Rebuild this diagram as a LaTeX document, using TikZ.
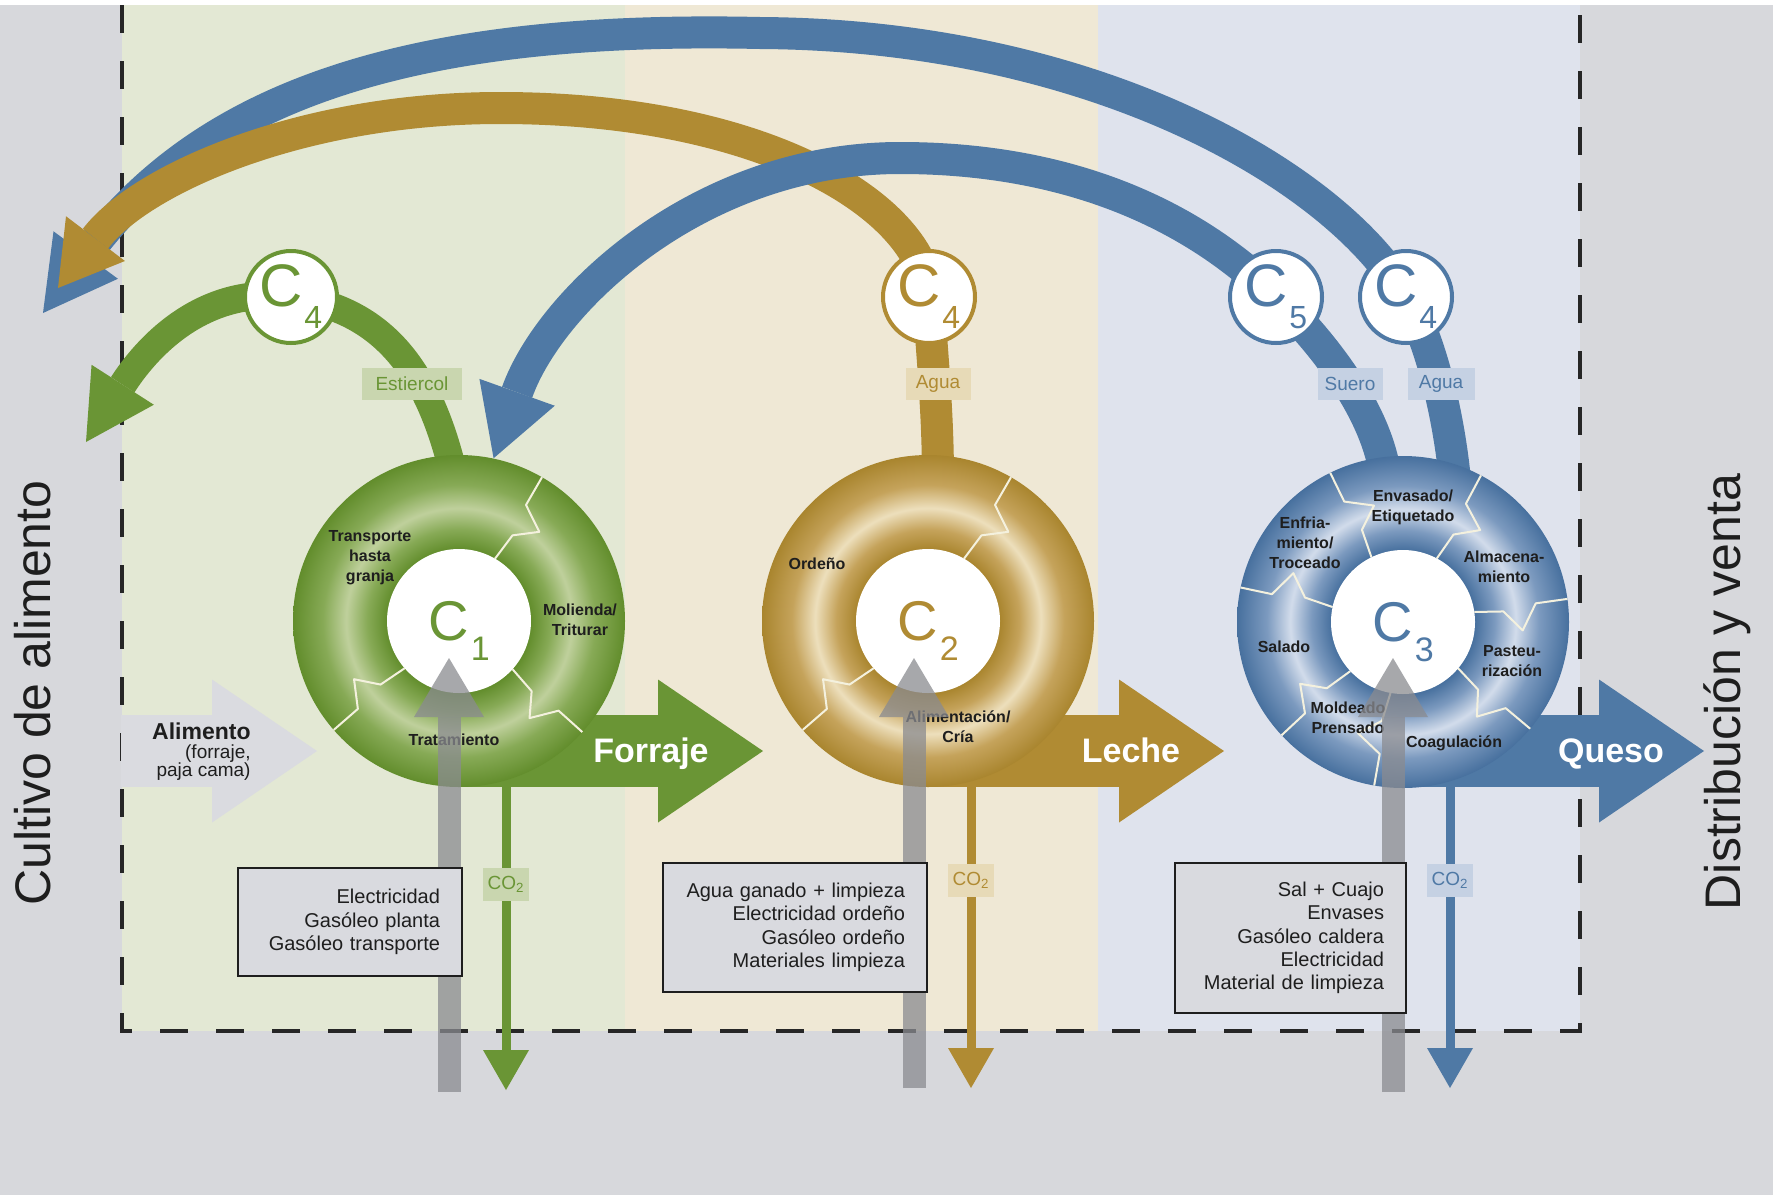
\documentclass[tikz,border=0pt]{standalone}
\usepackage{fontspec}
\setmainfont{Liberation Sans}
\usetikzlibrary{arrows.meta,calc}

\definecolor{bggray}{HTML}{D7D8DC}
\definecolor{zonegreen}{HTML}{E3E8D4}
\definecolor{zonetan}{HTML}{EFE8D5}
\definecolor{zoneblue}{HTML}{DFE3ED}
\definecolor{cgreen}{HTML}{6A9535}
\definecolor{ctan}{HTML}{B08B33}
\definecolor{cblue}{HTML}{4F79A5}
\definecolor{tgreen}{HTML}{C9D6AF}
\definecolor{ttan}{HTML}{E7DAB7}
\definecolor{tblue}{HTML}{C5D1E3}
\definecolor{grayarrow}{HTML}{8A8B90}
\definecolor{feedgray}{HTML}{DADBE0}
\definecolor{boxfill}{HTML}{D9DADF}
\definecolor{inktext}{HTML}{1E1E1E}
\definecolor{seamwhite}{HTML}{F4F1DE}
\definecolor{gdk}{HTML}{628D2C}
\definecolor{gmd}{HTML}{87AA56}
\definecolor{glt}{HTML}{BFD09C}
\definecolor{tdk}{HTML}{A9852E}
\definecolor{tmd}{HTML}{C5A35B}
\definecolor{tlt}{HTML}{EDDFBC}
\definecolor{bdk}{HTML}{47709E}
\definecolor{bmd}{HTML}{7C9ABF}
\definecolor{blt}{HTML}{D2DCEB}

\pgfdeclareradialshading{ringgreen}{\pgfpoint{0bp}{0bp}}{color(0bp)=(gdk); color(10.8bp)=(gdk); color(13.8bp)=(gmd); color(17bp)=(glt); color(20.5bp)=(gmd); color(25bp)=(gdk); color(50bp)=(gdk)}
\pgfdeclareradialshading{ringtan}{\pgfpoint{0bp}{0bp}}{color(0bp)=(tdk); color(10.8bp)=(tdk); color(13.8bp)=(tmd); color(17bp)=(tlt); color(20.5bp)=(tmd); color(25bp)=(tdk); color(50bp)=(tdk)}
\pgfdeclareradialshading{ringblue}{\pgfpoint{0bp}{0bp}}{color(0bp)=(bdk); color(10.8bp)=(bdk); color(13.8bp)=(bmd); color(17bp)=(blt); color(20.5bp)=(bmd); color(25bp)=(bdk); color(50bp)=(bdk)}

\pgfdeclarelayer{zones}
\pgfdeclarelayer{back}
\pgfdeclarelayer{front}
\pgfsetlayers{zones,back,main,front}

\newcommand{\Csub}[1]{C\kern1pt\smash{\raisebox{-10pt}{\fontsize{17}{17}\selectfont #1}}}
\newcommand{\Csmall}[1]{C\kern0.5pt\raisebox{-11pt}{\fontsize{16}{16}\selectfont #1}}
\newcommand{\seam}[2]{\draw[seamline] ($(#1)+(#2:36pt)$) -- ($(#1)+(#2-2:50.5pt)$) -- ($(#1)+(#2-12:60pt)$) -- ($(#1)+(#2:67pt)$) -- ($(#1)+(#2:83pt)$);}

\tikzset{
  ringnode/.style={circle, shade, shading=#1, minimum size=166pt, inner sep=0pt},
  corenode/.style={circle, fill=white, minimum size=72pt, inner sep=0pt, font=\fontsize{28}{28}\selectfont},
  bubble/.style={circle, draw=#1, fill=white, line width=2pt, minimum size=46pt, inner sep=0pt, text=#1, font=\fontsize{30}{30}\selectfont},
  steplabel/.style={align=center, inner sep=0pt, text=inktext, font=\fontsize{8}{10}\selectfont\bfseries},
  tagbox/.style={fill=#1, inner sep=0pt, minimum height=16pt, font=\fontsize{9.5}{9.5}\selectfont},
  inbox/.style={draw=inktext, line width=1.2pt, fill=boxfill, align=right, inner xsep=11pt, text=inktext, font=\fontsize{10}{11.7}\selectfont},
  bigarrow/.style={line width=36pt, -{Triangle[length=52.5pt,width=71.5pt,line width=0pt]}},
  bigtext/.style={anchor=base, text=white, font=\fontsize{17}{17}\selectfont\bfseries},
  band/.style={line width=#1},
  co2arrow/.style={line width=4.5pt, -{Triangle[length=20pt,width=23pt,line width=0pt]}},
  grayup/.style={draw=grayarrow, opacity=.75, line width=11.5pt, -{Triangle[length=29.5pt,width=35pt,line width=0pt]}},
  seamline/.style={draw=seamwhite, line width=1pt, line join=round},
  sidelabel/.style={rotate=90, anchor=base, text=inktext, font=\fontsize{25}{25}\selectfont},
  border/.style={draw=black!85, line width=2pt, dash pattern=on 14pt off 14pt}
}

\begin{document}
\begin{tikzpicture}[x=0.5pt,y=-0.5pt]
  \useasboundingbox (0,0) rectangle (1773,1195);
  % zones of the system
  \begin{pgfonlayer}{zones}
    \fill[white] (0,0) rectangle (1773,5);
    \fill[bggray] (0,5) rectangle (1773,1195);
    \fill[zonegreen] (122,5) rectangle (625,1031);
    \fill[zonetan] (625,5) rectangle (1098,1031);
    \fill[zoneblue] (1098,5) rectangle (1580,1031);
    \draw[border] (122,5) -- (122,1031) -- (1580,1031) -- (1580,5);
  \end{pgfonlayer}

  % rings
  \node[ringnode=ringgreen] (ringA) at (459,621) {};
  \node[ringnode=ringtan] (ringB) at (928,621) {};
  \node[ringnode=ringblue] (ringC) at (1403,622) {};
  \foreach \a in {60,-42,221} {\seam{ringA}{\a}}
  \foreach \a in {60,221} {\seam{ringB}{\a}}
  \foreach \a in {116,62,8,-40,-100,223,168} {\seam{ringC}{\a}}
  \node[corenode, text=cgreen] (coreA) at (ringA) {\Csub{1}};
  \node[corenode, text=ctan] (coreB) at (ringB) {\Csub{2}};
  \node[corenode, text=cblue] (coreC) at (ringC) {\Csub{3}};

  % process steps
  \node[steplabel] at (370,558) {Transporte\\hasta\\granja};
  \node[steplabel] at (580,620) {Molienda/\\Triturar};
  \node[steplabel] at (454,740) {Tratamiento};
  \node[steplabel] at (817,564) {Ordeño};
  \node[steplabel] at (958,727) {Alimentación/\\Cría};
  \node[steplabel] at (1413,507) {Envasado/\\Etiquetado};
  \node[steplabel] at (1305,543) {Enfria-\\miento/\\Troceado};
  \node[steplabel] at (1504,567) {Almacena-\\miento};
  \node[steplabel] at (1284,647) {Salado};
  \node[steplabel] at (1512,661) {Pasteu-\\rización};
  \node[steplabel] at (1348,718) {Moldeado\\Prensado};
  \node[steplabel] at (1454,743) {Coagulación};

  % by-products
  \node[bubble=cgreen] (c4A) at (291,297) {\Csmall{4}};
  \node[bubble=ctan] (c4B) at (929,297) {\Csmall{4}};
  \node[bubble=cblue] (c5C) at (1276,297) {\Csmall{5}};
  \node[bubble=cblue] (c4C) at (1406,297) {\Csmall{4}};

  \begin{pgfonlayer}{back}
    \draw[band=16pt, cblue, -{Triangle[length=36pt,width=40pt,line width=0pt]}]
      ($(ringC)+(52,-142)$) .. controls (1448,410) and (1430,340) .. (c4C.center)
      .. controls (1340,180) and (1100,35) .. (760,33)
      .. controls (400,25) and (200,100) .. (43,313);
    \draw[band=16pt, ctan, -{Triangle[length=31pt,width=37pt,line width=0pt]}]
      ($(ringB)+(10,-141)$) .. controls (938,400) and (930,340) .. (c4B.center)
      .. controls (925,210) and (770,108) .. (500,108)
      .. controls (300,108) and (140,180) .. (58,288);
    \draw[band=16pt, cblue, -{Triangle[length=35pt,width=40pt,line width=0pt]}]
      ($(ringC)+(-17,-142)$) .. controls (1378,410) and (1320,340) .. (c5C.center)
      .. controls (1200,222) and (1080,158) .. (900,158)
      .. controls (700,158) and (550,300) .. (ringA.78);
    \draw[band=14pt, cgreen, -{Triangle[length=34pt,width=37pt,line width=0pt]}]
      ($(ringA)+(-4,-141)$) .. controls (432,380) and (390,310) .. (c4A.center)
      .. controls (201,285) and (145,350) .. (86,442);

    % main flows
    \coordinate (feedin) at (121,751);
    \coordinate (feedout) at (317,751);
    \coordinate (forraje) at (763,751);
    \coordinate (leche) at (1224,751);
    \coordinate (queso) at (1704,751);
    \draw[bigarrow, feedgray] (feedin) -- (feedout);
    \draw[bigarrow, cgreen] (ringA.center |- forraje) -- (forraje);
    \draw[bigarrow, ctan] (ringB.center |- leche) -- (leche);
    \draw[bigarrow, cblue] (ringC.center |- queso) -- (queso);

    % emissions
    \coordinate (ventA) at (506,1090);
    \coordinate (ventB) at (971,1088);
    \coordinate (ventC) at (1450,1088);
    \draw[co2arrow, cgreen] (ventA |- ringA.center) -- (ventA);
    \draw[co2arrow, ctan] (ventB |- ringB.center) -- (ventB);
    \draw[co2arrow, cblue] (ventC |- ringC.center) -- (ventC);
  \end{pgfonlayer}

  % labels on the flows
  \node[tagbox=tgreen, text=cgreen, minimum width=50pt] (estiercol) at (412,384) {Estiercol};
  \node[tagbox=ttan, text=ctan, minimum width=32.5pt] (aguaB) at (938,384) {Agua};
  \node[tagbox=tblue, text=cblue, minimum width=32.5pt] (suero) at (1350,384) {Suero};
  \node[tagbox=tblue, text=cblue, minimum width=33.5pt] (aguaC) at (1441,384) {Agua};
  \node[tagbox=tgreen, text=cgreen, minimum width=23pt, minimum height=16.5pt] (co2A) at (506,884) {CO\textsubscript{2}};
  \node[tagbox=ttan, text=ctan, minimum width=23pt, minimum height=16.5pt] (co2B) at (971,880) {CO\textsubscript{2}};
  \node[tagbox=tblue, text=cblue, minimum width=23pt, minimum height=16.5pt] (co2C) at (1450,880) {CO\textsubscript{2}};

  \node[bigtext] (forrajetext) at (651,762) {Forraje};
  \node[bigtext] (lechetext) at (1131,762) {Leche};
  \node[bigtext] (quesotext) at (1611,762) {Queso};
  \node[align=right, anchor=east, inner sep=0pt, text=inktext, font=\fontsize{9.5}{9.3}\selectfont] (feedtext) at (251,752)
    {{\fontsize{11.5}{11}\selectfont\bfseries Alimento}\\(forraje,\\paja cama)};

  \node[sidelabel] (cultivo) at (50,693) {Cultivo de alimento};
  \node[sidelabel] (venta) at (1740,692) {Distribución y venta};

  % inputs
  \begin{pgfonlayer}{front}
    \coordinate (inA) at (449,1092);
    \coordinate (inB) at (914,1088);
    \coordinate (inC) at (1393,1092);
    \draw[grayup] (inA) -- ($(inA |- coreA.center)+(0,37)$);
    \draw[grayup] (inB) -- ($(inB |- coreB.center)+(0,37)$);
    \draw[grayup] (inC) -- ($(inC |- coreC.center)+(0,36)$);
    \node[inbox, text width=90pt, minimum height=54pt] (boxA) at (350,922)
      {Electricidad\\Gasóleo planta\\Gasóleo transporte};
    \node[inbox, text width=110pt, minimum height=64.5pt] (boxB) at (795,927.5)
      {Agua ganado + limpieza\\Electricidad ordeño\\Gasóleo ordeño\\Materiales limpieza};
    \node[inbox, text width=93.5pt, minimum height=75pt] (boxC) at (1290.5,938)
      {Sal + Cuajo\\Envases\\Gasóleo caldera\\Electricidad\\Material de limpieza};
  \end{pgfonlayer}
\end{tikzpicture}
\end{document}
